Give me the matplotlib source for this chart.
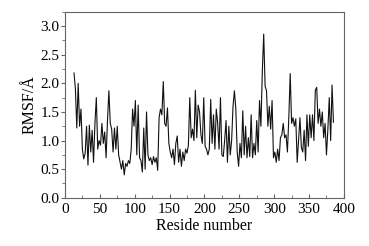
import numpy as np
import matplotlib
matplotlib.use("Agg")
import matplotlib.pyplot as plt
from matplotlib.ticker import MultipleLocator

plt.rcParams['font.family'] = ['Liberation Serif', 'DejaVu Serif']

# residue index (every 2nd residue) and RMSF values
residue = list(range(13, 386, 2))
rmsf = [
    2.18, 1.90, 1.22, 2.00, 1.25, 1.55, 0.85, 0.68, 0.78, 1.25,
    0.57, 1.27, 0.80, 1.18, 0.62, 1.30, 1.75, 0.85, 1.00, 0.92,
    1.30, 0.95, 1.15, 0.70, 1.35, 1.87, 1.30, 1.20, 0.80, 1.22,
    0.85, 1.25, 0.75, 0.62, 0.50, 0.65, 0.40, 0.60, 0.55, 0.65,
    0.60, 0.85, 1.55, 1.25, 1.70, 0.75, 1.62, 0.70, 0.65, 0.45,
    1.22, 0.50, 1.50, 0.75, 0.65, 0.70, 0.58, 0.72, 0.62, 0.70,
    0.48, 1.40, 1.55, 1.45, 2.03, 1.30, 1.25, 1.57, 0.95, 0.80,
    0.70, 0.85, 0.58, 0.95, 1.08, 0.62, 0.85, 0.55, 0.80, 0.65,
    0.85, 0.78, 0.92, 1.75, 1.05, 1.20, 1.00, 1.88, 1.05, 1.62,
    1.50, 1.10, 0.95, 1.75, 0.90, 0.85, 0.75, 0.85, 1.72, 0.95,
    1.45, 0.85, 1.55, 1.30, 0.85, 1.75, 0.75, 0.72, 1.00, 1.35,
    0.62, 1.25, 0.75, 1.00, 1.60, 1.87, 1.55, 0.80, 0.55, 0.95,
    0.70, 1.52, 0.75, 1.25, 0.70, 1.05, 0.72, 1.45, 0.70, 0.95,
    0.75, 1.35, 0.80, 1.70, 1.25, 2.20, 2.86, 1.95, 1.87, 1.25,
    1.60, 1.20, 1.70, 0.70, 0.80, 0.62, 0.85, 0.65, 1.05, 1.10,
    1.30, 1.05, 1.10, 0.80, 1.40, 2.17, 1.30, 1.40, 1.25, 1.38,
    0.62, 1.00, 1.40, 0.88, 0.80, 1.18, 0.65, 1.45, 0.90, 1.45,
    1.05, 1.45, 1.00, 1.88, 1.93, 1.30, 1.55, 1.25, 1.50, 1.05,
    1.30, 0.75, 1.20, 1.75, 1.00, 1.97, 1.32,
]

fig = plt.figure(figsize=(3.69, 2.46), dpi=100)
ax = fig.add_axes([0.176, 0.196, 0.756, 0.756])
ax.plot(residue, rmsf, color='#111111', lw=0.8)

ax.set_xlim(0, 400)
ax.set_ylim(0, 3.25)
ax.xaxis.set_major_locator(MultipleLocator(50))
ax.xaxis.set_minor_locator(MultipleLocator(25))
ax.yaxis.set_major_locator(MultipleLocator(0.5))
ax.yaxis.set_minor_locator(MultipleLocator(0.25))
ax.yaxis.set_major_formatter(matplotlib.ticker.FormatStrFormatter('%.1f'))

for s in ax.spines.values():
    s.set_color('#666666')
    s.set_linewidth(0.8)
ax.tick_params(axis='y', which='both', direction='out', color='#666666', labelsize=11, pad=1)
ax.tick_params(axis='y', which='major', length=3)
ax.tick_params(axis='y', which='minor', length=2)
ax.tick_params(axis='x', which='both', direction='in', color='#666666', labelsize=11, pad=4)
ax.tick_params(axis='x', which='major', length=3)
ax.tick_params(axis='x', which='minor', length=2)

ax.set_xlabel('Reside number', fontsize=11.5, labelpad=1)
ax.set_ylabel('RMSF/Å', fontsize=11.5, labelpad=2)

fig.savefig('out.png', dpi=100)
